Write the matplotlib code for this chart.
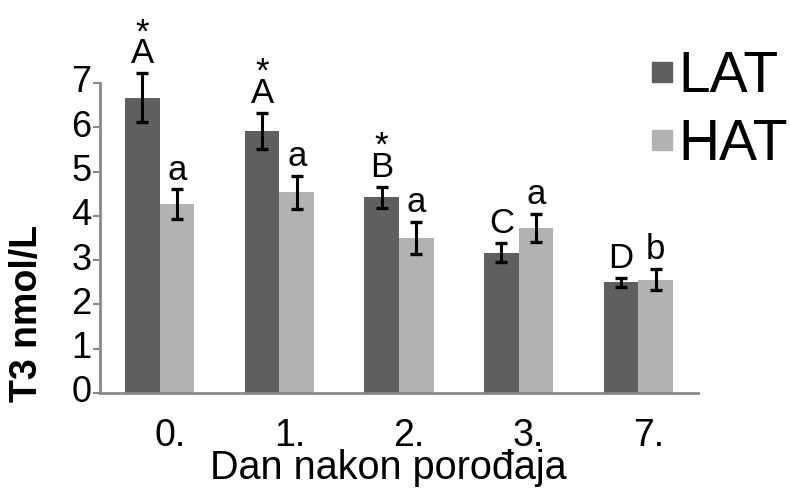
import matplotlib
matplotlib.use("Agg")
import matplotlib.pyplot as plt
import matplotlib.transforms as mtransforms
from matplotlib.lines import Line2D
import numpy as np

plt.rcParams['font.family'] = ['Liberation Sans', 'DejaVu Sans']

days = ["0.", "1.", "2.", "3.", "7."]
lat_mean = [6.67, 5.91, 4.42, 3.17, 2.50]
lat_err = [0.55, 0.41, 0.24, 0.22, 0.10]
hat_mean = [4.26, 4.53, 3.51, 3.73, 2.56]
hat_err = [0.34, 0.37, 0.36, 0.32, 0.24]
lat_letters = ["A", "A", "B", "C", "D"]
lat_star = [True, True, True, False, False]
hat_letters = ["a", "a", "a", "a", "b"]
yticks = [0, 1, 2, 3, 4, 5, 6, 7]

LAT_C = "#5f5f5f"
HAT_C = "#b2b2b2"
AX_C = "#8a8a8a"

fig = plt.figure(figsize=(7.9, 4.91), dpi=100)
ax = fig.add_axes([100/790, 1-393/491, 598/790, 310/491])

x = np.arange(len(days))
w = 0.29
ax.bar(x - w/2, lat_mean, width=w, color=LAT_C, label="LAT", zorder=2)
ax.bar(x + w/2, hat_mean, width=w, color=HAT_C, label="HAT", zorder=2)
for xs, m, e in [(x - w/2, lat_mean, lat_err), (x + w/2, hat_mean, hat_err)]:
    eb = ax.errorbar(xs, m, yerr=e, fmt="none", ecolor="black", elinewidth=2.2,
                     capsize=4.5, capthick=2.4, zorder=3)
    for art in eb.lines[1] + eb.lines[2]:
        art.set_clip_on(False)

fs_letter = 25
for i in range(len(days)):
    top = lat_mean[i] + lat_err[i]
    label = ("*\n" + lat_letters[i]) if lat_star[i] else lat_letters[i]
    ax.annotate(label, (x[i] - w/2, top), xytext=(0, 2), textcoords="offset points",
                ha="center", va="bottom", fontsize=fs_letter, linespacing=0.55,
                multialignment="center", annotation_clip=False)
    top2 = hat_mean[i] + hat_err[i]
    ax.annotate(hat_letters[i], (x[i] + w/2, top2), xytext=(0, 2), textcoords="offset points",
                ha="center", va="bottom", fontsize=fs_letter, annotation_clip=False)

ax.set_xlim(-0.5, len(days) - 0.5)
ax.set_ylim(0, 7)
ax.set_yticks(yticks)
ax.set_yticklabels([str(t) for t in yticks], fontsize=26)
ax.set_xticks(x)
ax.set_xticklabels(days, fontsize=27)
ax.tick_params(axis="x", length=0, pad=18)
ax.tick_params(axis="y", length=5, width=1.5, color=AX_C, pad=1)
offx = mtransforms.ScaledTranslation(10/100, 0, fig.dpi_scale_trans)
for lab in ax.get_xticklabels():
    lab.set_transform(lab.get_transform() + offx)
offy = mtransforms.ScaledTranslation(0, 4/100, fig.dpi_scale_trans)
for lab in ax.get_yticklabels():
    lab.set_transform(lab.get_transform() + offy)

for s in ["top", "right"]:
    ax.spines[s].set_visible(False)
for s in ["left", "bottom"]:
    ax.spines[s].set_color(AX_C)
    ax.spines[s].set_linewidth(2)

ax.set_ylabel("T3 nmol/L", fontsize=27, fontweight="bold")
ax.yaxis.set_label_coords(-(100-27)/598, (393-314)/310)
ax.set_xlabel("Dan nakon porođaja", fontsize=28.5)
ax.xaxis.set_label_coords((388-100)/598, -(468-393)/310)
ax.xaxis.label.set_va("center")
ax.yaxis.label.set_va("center")

handles = [Line2D([], [], marker="s", linestyle="none", markersize=15, color=LAT_C),
           Line2D([], [], marker="s", linestyle="none", markersize=15, color=HAT_C)]
fig.legend(handles, ["LAT", "HAT"], loc="upper left", bbox_to_anchor=(652/790, 1-50/491),
           frameon=False, fontsize=41, handlelength=0.35, handletextpad=0.12,
           labelspacing=0.25, borderpad=0, borderaxespad=0)

fig.savefig("out.png", dpi=100)
